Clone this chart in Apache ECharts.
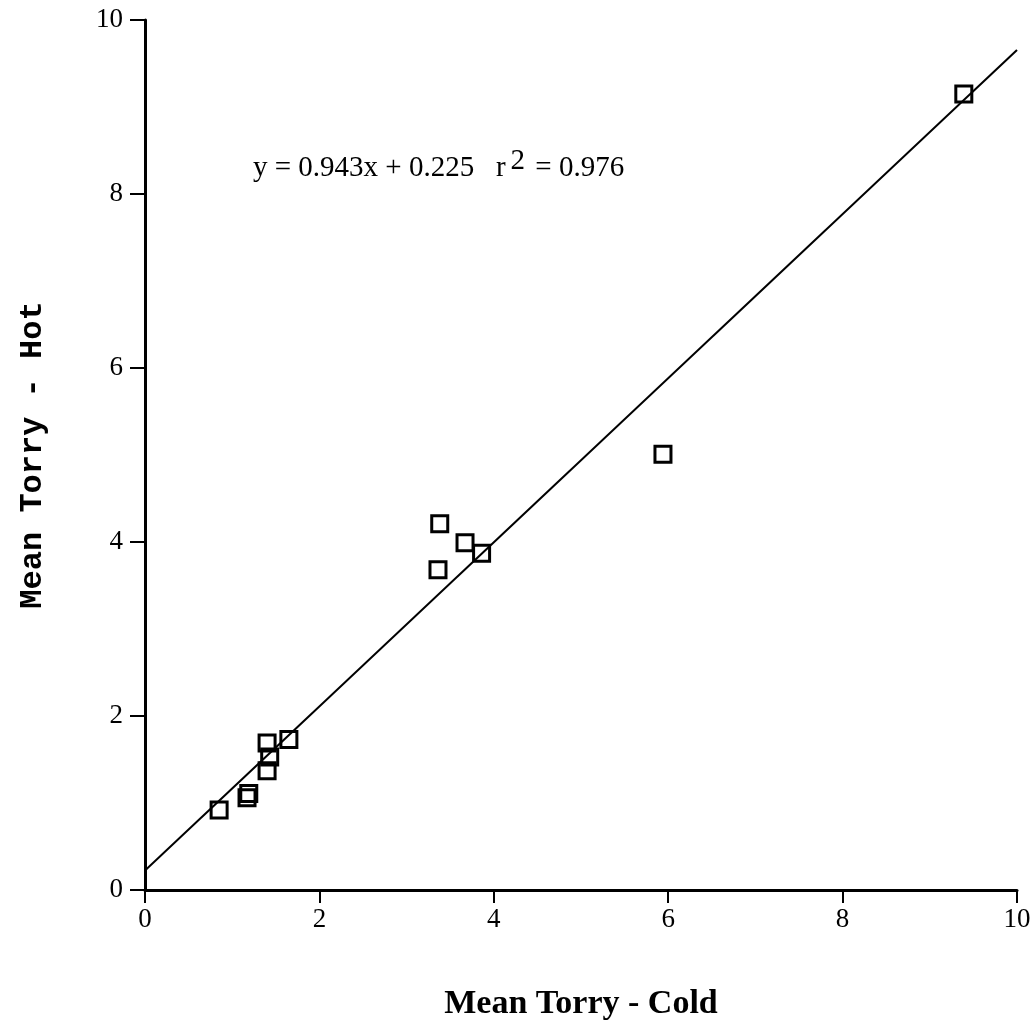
<!DOCTYPE html>
<html lang="en">
<head>
    <meta charset="UTF-8">
    <title>Mean Torry - Hot vs Cold</title>
    <script src="https://cdn.jsdelivr.net/npm/echarts@6/dist/echarts.min.js"></script>
    <style>
        body { margin: 0; background: #fff; }
        #chart { width: 1036px; height: 1024px; }
    </style>
</head>
<body>
    <div id="chart"></div>
    <script>
        // values
        const coldValues = [0.85, 1.17, 1.19, 1.40, 1.43, 1.40, 1.65, 3.38, 3.67, 3.86, 3.36, 5.94, 9.39];
        const hotValues = [0.92, 1.06, 1.11, 1.37, 1.53, 1.69, 1.73, 4.21, 3.99, 3.87, 3.68, 5.01, 9.15];
        const slope = 0.943;
        const intercept = 0.225;
        const fitX = [0, 10];

        const points = coldValues.map((x, i) => [x, hotValues[i]]);
        const fitLine = fitX.map(x => [x, slope * x + intercept]);

        const chart = echarts.init(document.getElementById('chart'));
        const serif = '"Liberation Serif", "DejaVu Serif", serif';
        const mono = '"Liberation Mono", "DejaVu Sans Mono", monospace';

        chart.setOption({
            animation: false,
            grid: { left: 145, right: 19, top: 20, bottom: 134, containLabel: false, outerBoundsMode: 'none' },
            xAxis: {
                type: 'value', min: 0, max: 10, interval: 2,
                name: 'Mean Torry - Cold',
                nameLocation: 'middle', nameGap: 97,
                nameTextStyle: { fontFamily: serif, fontSize: 34, fontWeight: 'bold', color: '#000' },
                axisLine: { onZero: false, lineStyle: { color: '#000', width: 3 } },
                axisTick: { show: true, length: 13, lineStyle: { color: '#000', width: 2 } },
                axisLabel: { fontFamily: serif, fontSize: 27, color: '#000', margin: 16 },
                splitLine: { show: false }
            },
            yAxis: {
                type: 'value', min: 0, max: 10, interval: 2,
                name: 'Mean Torry - Hot',
                nameLocation: 'middle', nameGap: 96,
                nameTextStyle: { fontFamily: mono, fontSize: 32, fontWeight: 'bold', color: '#000' },
                axisLine: { onZero: false, lineStyle: { color: '#000', width: 3 } },
                axisTick: { show: true, length: 15, lineStyle: { color: '#000', width: 2 } },
                axisLabel: { fontFamily: serif, fontSize: 27, color: '#000', margin: 22 },
                splitLine: { show: false }
            },
            graphic: [{
                type: 'text', left: 253, top: 147,
                style: {
                    text: '{a|y = 0.943x + 0.225   r}{s|2}{a| = 0.976}',
                    rich: {
                        a: { fontFamily: serif, fontSize: 29, fill: '#000', verticalAlign: 'bottom', lineHeight: 36 },
                        s: { fontFamily: serif, fontSize: 29, fill: '#000', verticalAlign: 'top', padding: [0, 3, 10, 5], lineHeight: 36 }
                    }
                }
            }],
            series: [
                {
                    type: 'line', data: fitLine, showSymbol: false,
                    lineStyle: { color: '#000', width: 2 }, z: 2
                },
                {
                    type: 'scatter', data: points,
                    symbol: 'rect', symbolSize: 16,
                    itemStyle: { color: 'rgba(255,255,255,0)', borderColor: '#000', borderWidth: 3, opacity: 1 },
                    z: 3
                }
            ]
        });
    </script>
</body>
</html>
